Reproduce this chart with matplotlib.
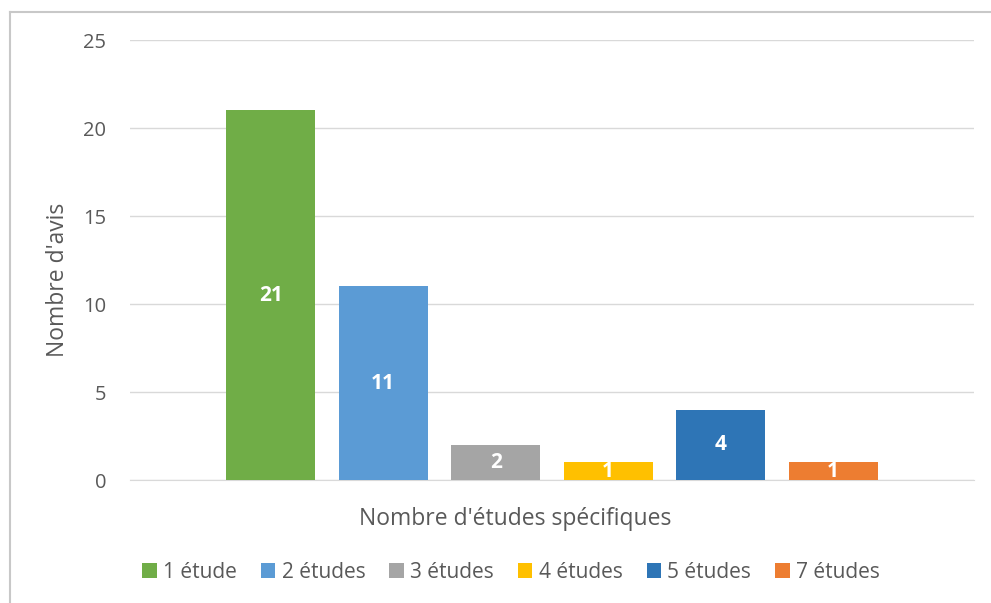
import matplotlib.pyplot as plt
from matplotlib.lines import Line2D
from matplotlib.patches import Patch

# nombre d'avis par nombre d'études spécifiques
series = ["1 étude", "2 études", "3 études", "4 études", "5 études", "7 études"]
counts = [21, 11, 2, 1, 4, 1]
colors = ["#70AD47", "#5B9BD5", "#A5A5A5", "#FFC000", "#2E75B6", "#ED7D31"]

TEXT = "#595959"
GRID = "#D9D9D9"
plt.rcParams["font.family"] = ["Open Sans", "DejaVu Sans"]

fig = plt.figure(figsize=(9.91, 6.03), dpi=100)
W, H = 991, 603
ax = fig.add_axes([130 / W, 1 - 480 / H, (974 - 130) / W, (480 - 40) / H])

step = 0.1333
width = 0.1055
for i, (name, val, col) in enumerate(zip(series, counts, colors)):
    x = (i - 2.5) * step
    ax.bar(x, val, width=width, color=col, label=name, zorder=3)
    ax.text(x, val / 2, str(val), ha="center", va="center", color="white",
            fontsize=15, fontweight="bold", zorder=4)

ax.set_xlim(-0.5, 0.5)
ax.set_ylim(0, 25)
ax.set_yticks(range(0, 26, 5))
ax.set_xticks([])
ax.grid(axis="y", color=GRID, linewidth=1, zorder=0)
for s in ["top", "right", "left"]:
    ax.spines[s].set_visible(False)
ax.spines["bottom"].set_color(GRID)
ax.tick_params(axis="y", length=0, pad=17, labelsize=14.5, labelcolor=TEXT)

fig.text(58 / W, 1 - 280 / H, "Nombre d'avis", rotation=90, ha="center",
         va="center", fontsize=16.5, color=TEXT)
fig.text(515 / W, 1 - 519 / H, "Nombre d'études spécifiques", ha="center",
         va="center", fontsize=16.5, color=TEXT)

handles = [Patch(facecolor=c, edgecolor="none") for c in colors]
fig.legend(handles, series, loc="center", bbox_to_anchor=(511 / W, 1 - 572 / H),
           ncol=6, frameon=False, fontsize=15, labelcolor=TEXT,
           handlelength=0.7, handleheight=0.7, handletextpad=0.3,
           columnspacing=1.15)

# cadre gris en haut et à gauche
fig.add_artist(Line2D([9.5 / W, 9.5 / W], [0, 1 - 11.5 / H],
                      transform=fig.transFigure, color="#C8C8C8", lw=1.5))
fig.add_artist(Line2D([9.5 / W, 1], [1 - 11.5 / H, 1 - 11.5 / H],
                      transform=fig.transFigure, color="#C8C8C8", lw=1.5))

fig.savefig("out.png", dpi=100)
